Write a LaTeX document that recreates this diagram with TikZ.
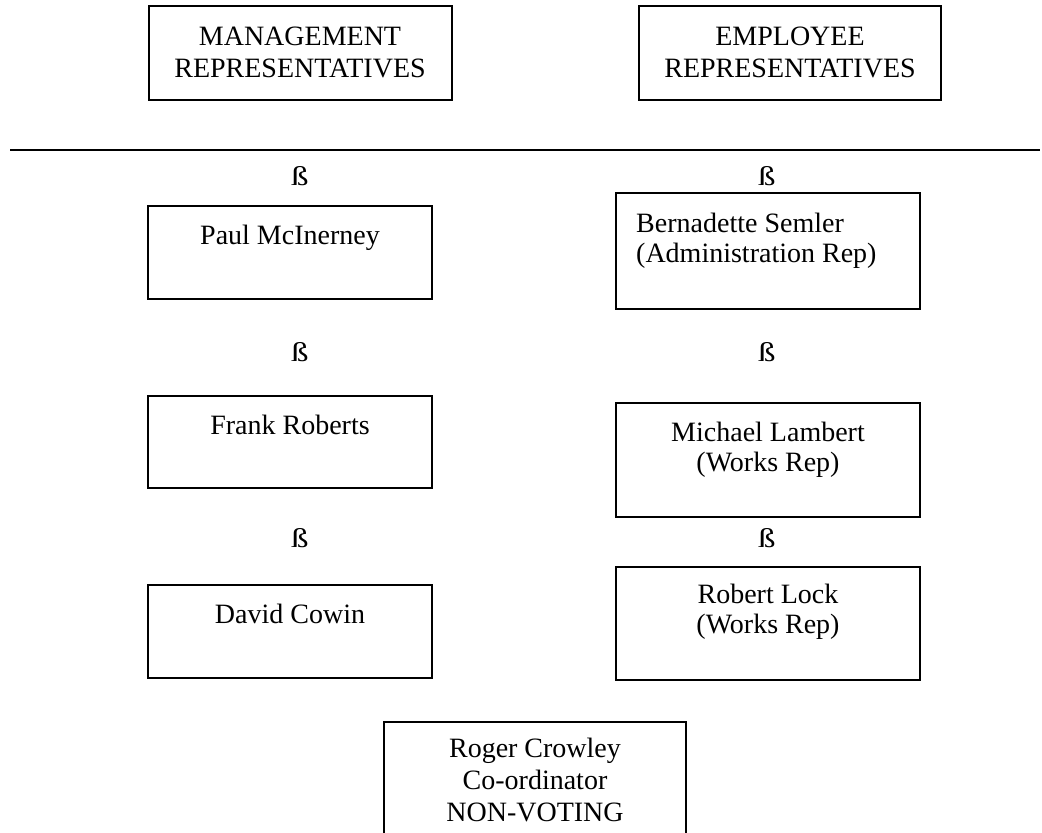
\documentclass[tikz,border=0pt]{standalone}
\usepackage{fontspec}
\setmainfont{Liberation Serif}
\newcommand{\mylines}[2][c]{\begin{tabular}[t]{@{}#1@{}}#2\end{tabular}}
\newcommand{\wideeszett}{\scalebox{1.3}[1.0]{ß}}
\begin{document}
\begin{tikzpicture}[x=1bp,y=-1bp,
  box/.style={draw, line width=1.2bp, inner sep=0pt, outer sep=0pt, anchor=north west},
  txt/.style={inner sep=0pt, anchor=base, font=\fontsize{28bp}{31bp}\selectfont},
  sym/.style={inner sep=0pt, anchor=base, font=\fontsize{27bp}{31bp}\selectfont}]
\useasboundingbox (0,0) rectangle (1042,833);
% header boxes
\node[box, minimum width=303bp, minimum height=94bp] (mgmt) at (149,6) {};
\node[box, minimum width=302bp, minimum height=94bp] (emp) at (639,6) {};
\node[txt, font=\fontsize{28bp}{32bp}\selectfont] (mgmtT) at (300,45) {\mylines{MANAGEMENT\\REPRESENTATIVES}};
\node[txt, font=\fontsize{28bp}{32bp}\selectfont] (empT) at (790,45) {\mylines{EMPLOYEE\\REPRESENTATIVES}};
% rule
\coordinate (ruleL) at (10,150);
\coordinate (ruleR) at (1040,150);
\draw[line width=1.3bp] (ruleL) -- (ruleR);
% symbols
\node[sym] (s1l) at (300,185) {\wideeszett};
\node[sym] (s1r) at (767,185) {\wideeszett};
\node[sym] (s2l) at (300,361) {\wideeszett};
\node[sym] (s2r) at (767,361) {\wideeszett};
\node[sym] (s3l) at (300,547) {\wideeszett};
\node[sym] (s3r) at (767,547) {\wideeszett};
% left column
\node[box, minimum width=284bp, minimum height=93bp] (paul) at (148,206) {};
\node[txt] (paulT) at (290,244) {Paul McInerney};
\node[box, minimum width=284bp, minimum height=92bp] (frank) at (148,396) {};
\node[txt] (frankT) at (290,434) {Frank Roberts};
\node[box, minimum width=284bp, minimum height=93bp] (david) at (148,585) {};
\node[txt] (davidT) at (290,623) {David Cowin};
% right column
\node[box, minimum width=304bp, minimum height=116bp] (bern) at (616,193) {};
\node[txt, anchor=base west, font=\fontsize{28bp}{30bp}\selectfont] (bernT) at (636,232) {\mylines[l]{Bernadette Semler\\(Administration Rep)}};
\node[box, minimum width=304bp, minimum height=114bp] (mich) at (616,403) {};
\node[txt, font=\fontsize{28bp}{30bp}\selectfont] (michT) at (768,441) {\mylines{Michael Lambert\\(Works Rep)}};
\node[box, minimum width=304bp, minimum height=113bp] (rob) at (616,567) {};
\node[txt, font=\fontsize{28bp}{30bp}\selectfont] (robT) at (768,603) {\mylines{Robert Lock\\(Works Rep)}};
% coordinator
\node[box, minimum width=302bp, minimum height=140bp] (roger) at (384,722) {};
\node[txt, font=\fontsize{28bp}{32bp}\selectfont] (rogerT) at (535,757) {\mylines{Roger Crowley\\Co-ordinator\\NON-VOTING}};
\end{tikzpicture}
\end{document}
